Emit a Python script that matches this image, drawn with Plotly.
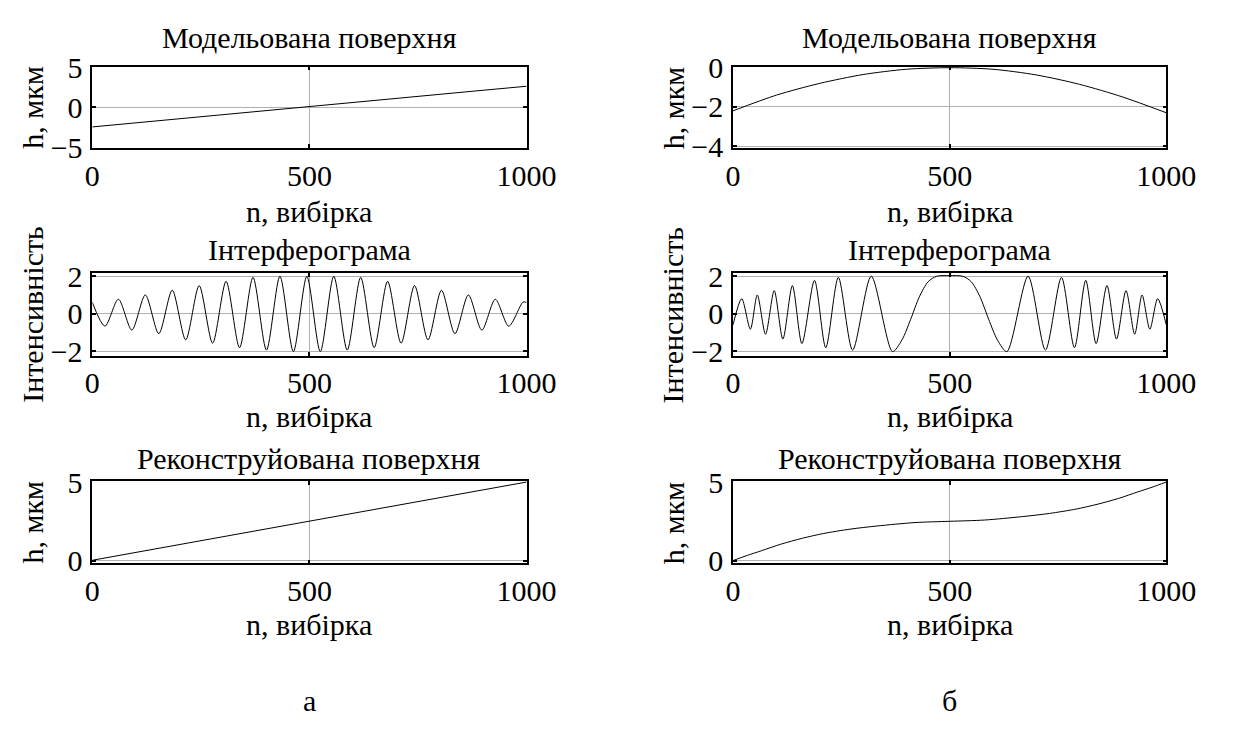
import plotly.graph_objects as go

# ---------------- data ----------------
n_model_a = [0, 100, 200, 300, 400, 500, 600, 700, 800, 900, 1000]
h_model_a = [-2.45, -1.93, -1.42, -0.9, -0.38, 0.12, 0.62, 1.13, 1.64, 2.15, 2.65]

n_interf_a = [0, 29, 60, 91, 122, 153, 184, 215, 246, 277, 308, 339, 370, 401, 432, 463,
              494, 525, 556, 587, 618, 649, 680, 711, 742, 773, 804, 835, 866, 897, 928,
              959, 992, 1000]
i_interf_a = [0.6, -0.67, 0.77, -0.88, 1.0, -1.07, 1.25, -1.4, 1.5, -1.58, 1.73, -1.82,
              1.94, -1.95, 2.0, -2.03, 2.0, -2.03, 2.0, -1.95, 1.94, -1.82, 1.73, -1.58,
              1.5, -1.4, 1.25, -1.07, 1.0, -0.88, 0.77, -0.67, 0.62, 0.6]

n_recon_a = [0, 250, 500, 750, 1000]
h_recon_a = [0.02, 1.27, 2.52, 3.77, 5.0]

n_model_b = [0, 100, 200, 300, 400, 500, 600, 700, 800, 900, 1000]
h_model_b = [-2.2, -1.4, -0.8, -0.35, -0.08, 0.0, -0.08, -0.37, -0.85, -1.5, -2.3]

n_interf_b = [0, 20, 40, 56, 75, 95, 115, 137, 159, 188, 214, 243, 276, 319, 368,
              390, 410, 430, 450, 470, 500, 530, 550, 570, 590, 610, 632,
              681, 721, 758, 788, 814, 838, 863, 885, 907, 927, 944, 962, 980, 1000]
i_interf_b = [-0.6, 0.8, -0.83, 1.0, -1.1, 1.23, -1.36, 1.5, -1.6, 1.78, -1.82, 1.94,
              -1.95, 2.0, -2.03, -1.4, -0.3, 0.9, 1.7, 2.0, 2.03, 2.0, 1.7, 0.9,
              -0.3, -1.4, -2.03, 2.0, -1.95, 1.94, -1.82, 1.78, -1.6, 1.5, -1.36,
              1.23, -1.1, 1.0, -0.83, 0.8, -0.6]

n_recon_b = [0, 33, 66, 110, 160, 208, 270, 332, 420, 500, 580, 668, 730, 792, 840,
             890, 934, 967, 1000]
h_recon_b = [0.0, 0.33, 0.63, 1.04, 1.42, 1.72, 2.0, 2.2, 2.42, 2.5, 2.58, 2.8, 3.0,
             3.28, 3.58, 3.96, 4.37, 4.67, 5.0]

titles = ["Модельована поверхня", "Інтерферограма", "Реконструйована поверхня"]
ylabels = ["h, мкм", "Інтенсивність", "h, мкм"]
xlabel = "n, вибірка"
x_ticks = [0, 500, 1000]
y_ticks = [[-5, 0, 5], [-2, 0, 2], [0, 5], [-4, -2, 0], [-2, 0, 2], [0, 5]]
y_ranges = [[-5.1, 5.1], [-2.25, 2.15], [-0.18, 5.06], [-4.1, 0.05], [-2.25, 2.15], [-0.18, 5.06]]
panel_letters = ["а", "б"]

series = [(n_model_a, h_model_a, "linear"), (n_interf_a, i_interf_a, "spline"),
          (n_recon_a, h_recon_a, "linear"), (n_model_b, h_model_b, "spline"),
          (n_interf_b, i_interf_b, "spline"), (n_recon_b, h_recon_b, "spline")]

# ---------------- layout geometry ----------------
W, H = 1238, 744
FONT = "Liberation Serif, Times New Roman, serif"
FS = 30
col_px = [(87, 535), (748, 1195)]
row_px = [(53, 138), (269, 355), (486, 572)]
title_gap = [31, 25, 24]
xlabel_gap = [66, 64, 64]


def fx(px):
    return px / W


def fy(py):
    return 1 - py / H


fig = go.Figure()
annotations = []
k = 0
for c in range(2):
    for r in range(3):
        k += 1
        xa = "x" if k == 1 else f"x{k}"
        ya = "y" if k == 1 else f"y{k}"
        xs, ys, shape = series[k - 1]
        fig.add_trace(go.Scatter(x=xs, y=ys, mode="lines", xaxis=xa, yaxis=ya,
                                 line=dict(color="black", width=1, shape=shape,
                                           smoothing=0.8 if shape == "spline" else None),
                                 showlegend=False, hoverinfo="skip"))
        x0, x1 = col_px[c]
        y0, y1 = row_px[r]
        common = dict(showline=True, linecolor="black", linewidth=1.5, mirror="allticks",
                      ticks="inside", ticklen=4, tickwidth=1.5, tickcolor="black",
                      showgrid=True, gridcolor="#b0b0b0", gridwidth=1, zeroline=False,
                      tickfont=dict(family=FONT, size=FS, color="black"))
        fig.layout[f"xaxis{'' if k == 1 else k}"] = dict(
            domain=[fx(x0), fx(x1)], anchor=ya, range=[0, 1000], tickvals=x_ticks,
            ticklabelstandoff=0, **common)
        fig.layout[f"yaxis{'' if k == 1 else k}"] = dict(
            domain=[fy(y1), fy(y0)], anchor=xa, range=y_ranges[k - 1], tickvals=y_ticks[k - 1],
            ticklabelstandoff=2, **common)
        cx = (x0 + x1) / 2
        annotations.append(dict(text=titles[r], x=fx(cx), y=fy(y0 - title_gap[r]),
                                xref="paper", yref="paper",
                                xanchor="center", yanchor="middle", showarrow=False,
                                font=dict(family=FONT, size=FS, color="black")))
        annotations.append(dict(text=xlabel, x=fx(cx), y=fy(y1 + xlabel_gap[r]),
                                xref="paper", yref="paper",
                                xanchor="center", yanchor="middle", showarrow=False,
                                font=dict(family=FONT, size=FS, color="black")))
        annotations.append(dict(text=ylabels[r], x=fx(x0 - 62), y=fy((y0 + y1) / 2),
                                xref="paper", yref="paper", xanchor="center", yanchor="middle",
                                textangle=-90, showarrow=False,
                                font=dict(family=FONT, size=FS, color="black")))
    annotations.append(dict(text=panel_letters[c], x=fx((col_px[c][0] + col_px[c][1]) / 2),
                            y=fy(715), xref="paper", yref="paper", xanchor="center",
                            yanchor="middle", showarrow=False,
                            font=dict(family=FONT, size=FS, color="black")))

fig.update_layout(width=W, height=H, margin=dict(l=0, r=0, t=0, b=0),
                  paper_bgcolor="white", plot_bgcolor="white",
                  annotations=annotations)

fig.write_html("out.html")
